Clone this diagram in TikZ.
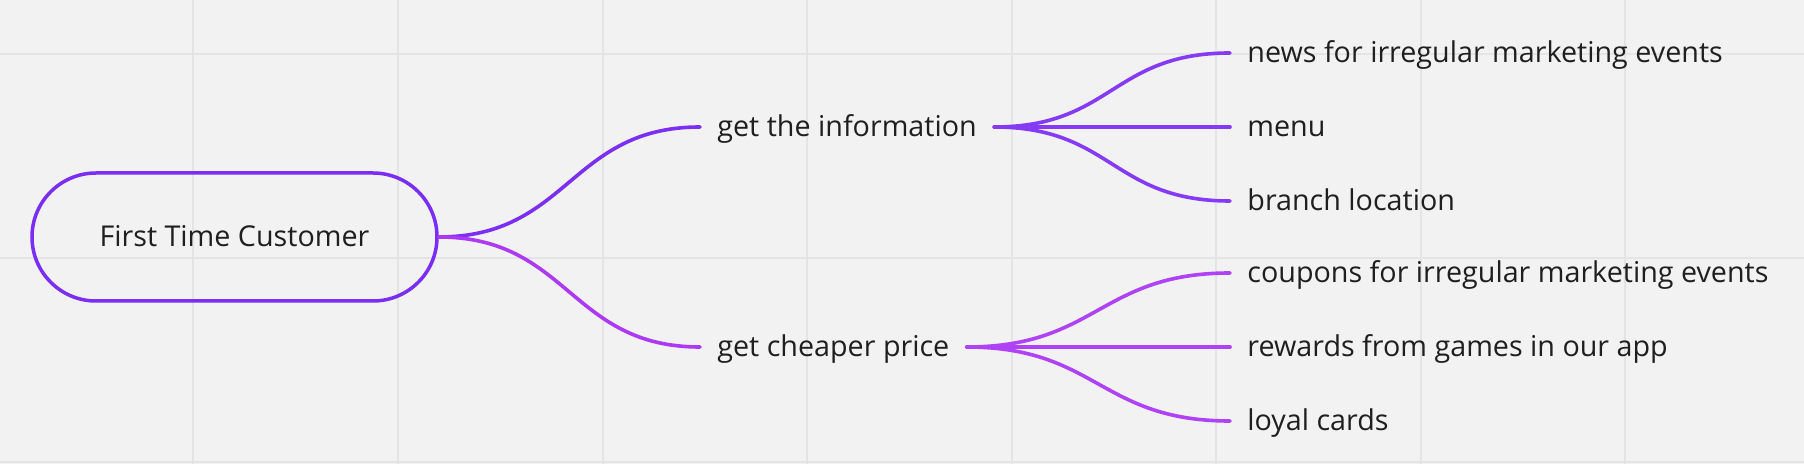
\documentclass[tikz,border=0pt]{standalone}
\usepackage{fontspec}
\setmainfont{Open Sans}
\definecolor{bgc}{HTML}{F2F2F2}
\definecolor{gridc}{HTML}{E4E4E4}
\definecolor{rootc}{HTML}{7A2DF3}
\definecolor{topc}{HTML}{7B2FF2}
\definecolor{botc}{HTML}{AD3AF2}
\definecolor{topleafc}{HTML}{853AF5}
\definecolor{botleafc}{HTML}{B042F5}
\definecolor{txtc}{HTML}{1F1F1F}
\begin{document}
\begin{tikzpicture}[x=0.5pt,y=-0.5pt,
  lbl/.style={font=\fontsize{14.35pt}{17pt}\selectfont, text=txtc, text height=12pt, text depth=2.7pt, inner xsep=8.5pt, inner ysep=0pt, anchor=west},
  rootbox/.style={lbl, anchor=center, draw=rootc, line width=1.75pt, rounded corners=32pt, minimum width=202.5pt, minimum height=64pt},
  conn/.style={line width=1.8pt, line cap=round},
  gridline/.style={draw=gridc, line width=1pt}]
\useasboundingbox (0,0) rectangle (1804,464);
\fill[bgc] (0,0) rectangle (1804,464);
\foreach \gx in {193,398,603,807,1012,1216,1421,1625} {\draw[gridline] (\gx,0) -- (\gx,464);}
\foreach \gy in {54,258,462} {\draw[gridline] (0,\gy) -- (1804,\gy);}

\node[rootbox] (root) at (234.5,237) {First Time Customer};
\node[lbl] (info) at (700,127) {get the information};
\node[lbl] (cheap) at (700,347) {get cheaper price};

\node[lbl] (news) at (1230,53) {news for irregular marketing events};
\node[lbl] (menu) at (1230,127) {menu};
\node[lbl] (branch) at (1230,201) {branch location};
\node[lbl] (coupons) at (1230,273) {coupons for irregular marketing events};
\node[lbl] (rewards) at (1230,347) {rewards from games in our app};
\node[lbl] (loyal) at (1230,421) {loyal cards};

\draw[conn, draw=topc] (root.east) .. controls +(130,0) and +(-130,0) .. (info.west);
\draw[conn, draw=botc] (root.east) .. controls +(130,0) and +(-130,0) .. (cheap.west);

\draw[conn, draw=topleafc] (info.east) .. controls +(118,0) and +(-118,0) .. (news.west);
\draw[conn, draw=topleafc] (info.east) -- (menu.west);
\draw[conn, draw=topleafc] (info.east) .. controls +(118,0) and +(-118,0) .. (branch.west);

\draw[conn, draw=botleafc] (cheap.east) .. controls +(130,0) and +(-130,0) .. (coupons.west);
\draw[conn, draw=botleafc] (cheap.east) -- (rewards.west);
\draw[conn, draw=botleafc] (cheap.east) .. controls +(130,0) and +(-130,0) .. (loyal.west);
\end{tikzpicture}
\end{document}
